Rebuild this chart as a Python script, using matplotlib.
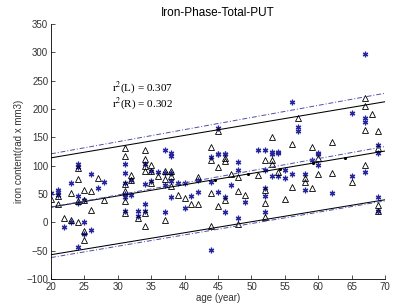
import numpy as np
import matplotlib
matplotlib.use("Agg")
import matplotlib.pyplot as plt

plt.rcParams['font.family'] = ['Liberation Sans', 'DejaVu Sans']
plt.rcParams['mathtext.fontset'] = 'stix'

# left hemisphere (triangles): age, iron content
age_L = [20, 21, 21, 22, 23, 23, 24, 24, 24, 24, 25, 25, 25, 25, 26, 26, 27, 28,
         31, 31, 31, 31, 31, 31, 32, 32, 33, 34, 34, 34, 34, 34, 34, 35, 35, 35,
         36, 37, 37, 37, 38, 38, 38, 39, 40, 41, 42, 42, 44, 44, 44, 44, 45, 45,
         45, 46, 46, 46, 47, 48, 48, 48, 49, 51, 52, 52, 52, 52, 53, 53, 53, 54,
         55, 56, 56, 57, 58, 58, 59, 59, 60, 60, 62, 62, 65, 67, 67, 67, 67, 68,
         69, 69, 69, 69]
iron_L = [42, 46, 33, 8, 52, 5, 96, 77, 37, 1, 40, 58, -15, -31, 55, 22, 79, 39,
          131, 118, 68, 55, 37, 17, 84, 74, 8, 127, 112, 100, 91, 17, -6, 102, 91, 70,
          82, 91, 76, 5, 91, 82, 64, 49, 43, 33, 81, 33, 133, 110, 52, -7, 162, 97,
          29, 113, 109, 39, 86, 81, 56, -2, 49, 84, 110, 57, 35, 10, 151, 110, 103, 89,
          41, 139, 62, 184, 78, 72, 133, 60, 113, 85, 142, 88, 72, 220, 205, 163, 101, 191,
          162, 132, 30, 21]

# right hemisphere (stars)
age_R = [20, 21, 21, 21, 22, 23, 23, 24, 24, 24, 24, 24, 25, 25, 25, 26, 26, 27,
         28, 31, 31, 31, 31, 31, 31, 32, 32, 33, 33, 34, 34, 34, 34, 35, 35, 36,
         37, 37, 37, 37, 38, 38, 38, 38, 38, 39, 40, 40, 41, 42, 42, 44, 44, 44,
         45, 45, 45, 45, 46, 46, 46, 46, 47, 48, 48, 48, 49, 51, 52, 52, 52, 52,
         52, 53, 53, 53, 54, 54, 54, 55, 55, 56, 56, 57, 57, 58, 58, 59, 60, 60,
         60, 62, 65, 65, 67, 67, 67, 67, 69, 69, 69, 69]
iron_R = [52, 58, 53, 49, -8, 70, 0, 103, 97, 46, 35, -44, 39, 0, -20, 86, -13, 60,
          72, 103, 87, 70, 51, 21, 45, 74, 48, 20, 11, 103, 67, 32, 20, 91, 73, 89,
          128, 87, 66, 19, 122, 118, 87, 73, 45, 70, 70, 26, 46, 75, 54, 116, 72, -48,
          166, 120, 121, 54, 120, 121, 45, 19, 66, 107, 93, 8, 36, 128, 128, 93, 60, 47,
          19, 125, 121, 82, 125, 122, 82, 92, 78, 213, 85, 168, 161, 85, 57, 110, 122, 121,
          101, 52, 193, 82, 298, 184, 178, 89, 137, 123, 45, 21]

# regression lines and bands (values at ages 20 and 70)
fit_age = [20, 70]
fit_L = [27, 126]
fit_L_upper = [114, 213]
fit_L_lower = [-57, 40]
fit_R = [27, 134]
fit_R_upper = [121, 228]
fit_R_lower = [-62, 38]
dot_age = [44.5, 49.5, 54.2, 59.2, 64]

r2_L = 0.307
r2_R = 0.302

fig = plt.figure(figsize=(3.97, 3.05), dpi=100)
ax = fig.add_axes([0.1285, 0.085, 0.8415, 0.836])

blue = (0.15, 0.15, 0.62)
ax.plot(age_R, iron_R, linestyle='none', marker=(6, 2, 0), markersize=4,
        markeredgecolor=blue, markeredgewidth=0.9, color=blue)
ax.plot(age_L, iron_L, linestyle='none', marker='^', markersize=4.5,
        markerfacecolor='none', markeredgecolor='black', markeredgewidth=0.6)

line_blue = (0.3, 0.3, 0.68)
ax.plot(fit_age, fit_L, color='black', lw=0.75)
ax.plot(fit_age, fit_L_upper, color='black', lw=0.75)
ax.plot(fit_age, fit_L_lower, color='black', lw=0.75)
ax.plot(fit_age, fit_R, color=line_blue, lw=0.7, ls=(0, (5, 2, 1, 2)))
ax.plot(fit_age, fit_R_upper, color=line_blue, lw=0.7, ls=(0, (5, 2, 1, 2)))
ax.plot(fit_age, fit_R_lower, color=line_blue, lw=0.7, ls=(0, (5, 2, 1, 2)))
ax.plot(dot_age, np.interp(dot_age, fit_age, fit_L), linestyle='none',
        marker='.', markersize=2.5, color='black')

ax.text(29.2, 237, r'r$^2$(L) = %.3f' % r2_L, family='Liberation Serif', fontsize=8,
        va='center')
ax.text(29.2, 210, r'r$^2$(R) = %.3f' % r2_R, family='Liberation Serif', fontsize=8,
        va='center')

ax.set_xlim(20, 70)
ax.set_ylim(-100, 350)
ax.set_xticks(range(20, 71, 5))
ax.set_yticks(range(-100, 351, 50))
ax.tick_params(direction='in', length=3, width=0.6, labelsize=7, colors='#333333',
               pad=2)
ax.spines['top'].set_visible(False)
ax.spines['right'].set_visible(False)
for s in ('left', 'bottom'):
    ax.spines[s].set_linewidth(0.6)

ax.set_title('Iron-Phase-Total-PUT', fontsize=8.5, pad=6)
ax.set_xlabel('age (year)', fontsize=7, labelpad=1, color='#333333')
ax.set_ylabel('iron content(rad x mm3)', fontsize=7, labelpad=2, color='#333333')

fig.savefig('out.png', dpi=100)
